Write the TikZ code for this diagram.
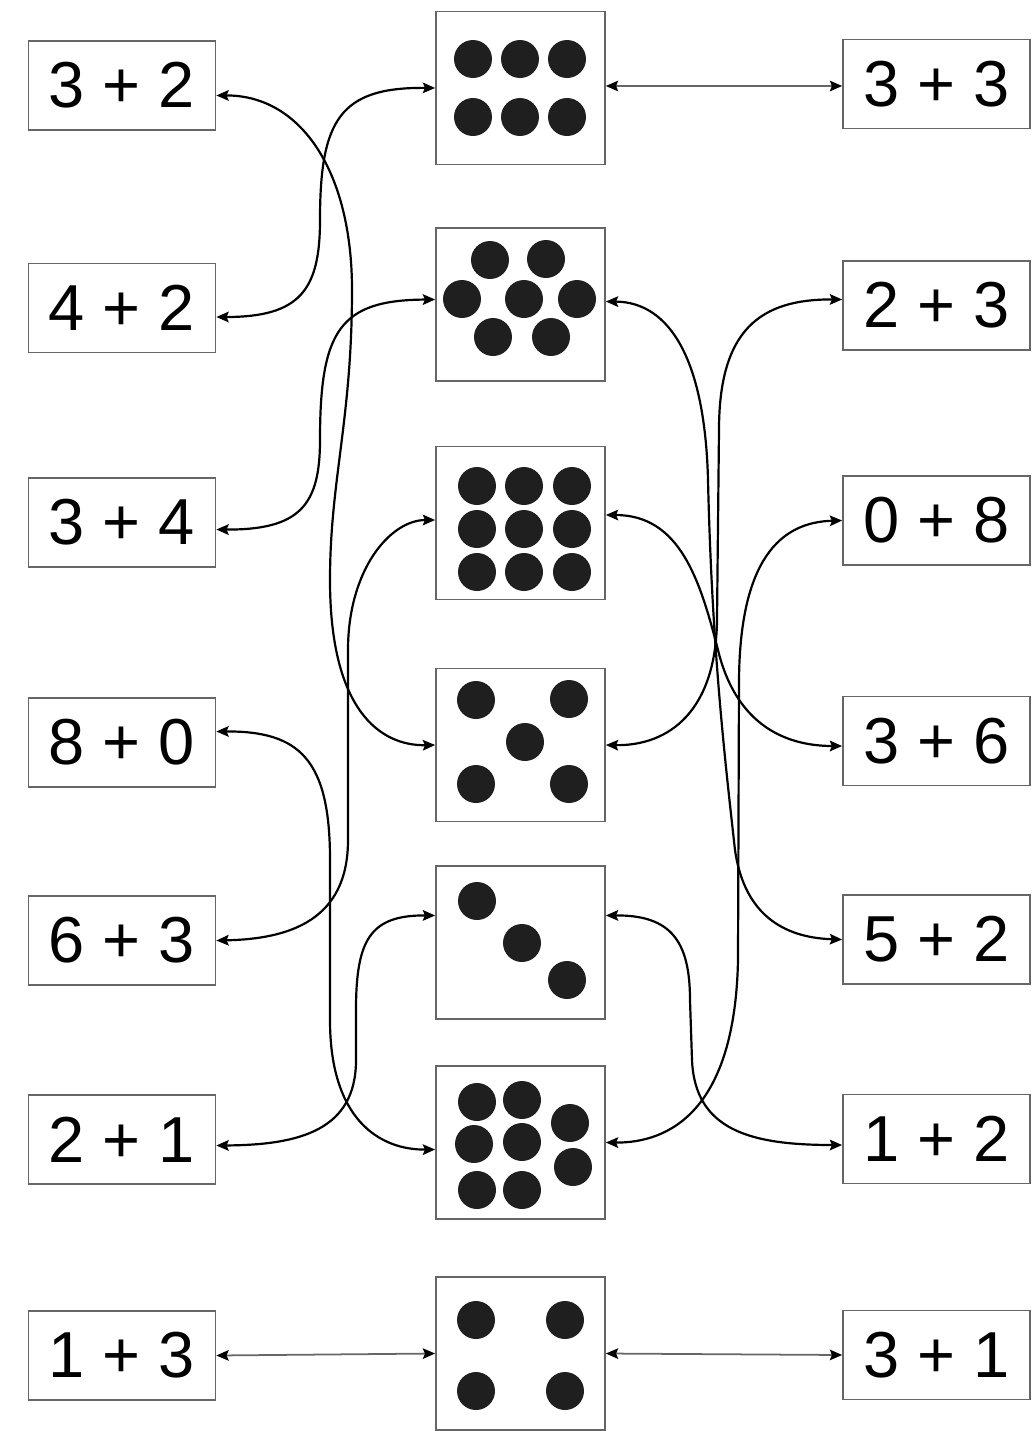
\documentclass[tikz,border=0pt]{standalone}
\usepackage{fontspec}
\setmainfont{Liberation Sans}
\usetikzlibrary{arrows.meta, calc}

\begin{document}
\begin{tikzpicture}[
  x=0.02cm, y=-0.02cm,
  %% sum box (left and right columns)
  sumbox/.style={
    draw=black!60, line width=1pt, fill=white,
    minimum width=3.74cm, minimum height=1.78cm, inner sep=0pt,
    font=\fontsize{37}{44}\selectfont
  },
  %% dot box (middle column)
  dotbox/.style={
    draw=black!60, line width=1pt, fill=white,
    minimum width=3.38cm, minimum height=3.06cm, inner sep=0pt
  },
  pip/.style={fill=black!88},
  %% curved two-headed link
  link/.style={
    {Stealth[length=7pt,width=6pt,inset=1.2pt,color=black]}-{Stealth[length=7pt,width=6pt,inset=1.2pt,color=black]},
    line width=1.25pt
  },
  %% straight two-headed link (thin, grey)
  flat/.style={link, draw=black!60, line width=1pt},
]

\useasboundingbox (0,0) rectangle (1035,1431);

%% ── Left column ──────────────────────────────────────────────────────────────
\node[sumbox] (L1) at (122,85.5)   {3 + 2};
\node[sumbox] (L2) at (122,308)    {4 + 2};
\node[sumbox] (L3) at (122,522.5)  {3 + 4};
\node[sumbox] (L4) at (122,742.5)  {8 + 0};
\node[sumbox] (L5) at (122,940.5)  {6 + 3};
\node[sumbox] (L6) at (122,1139.5) {2 + 1};
\node[sumbox] (L7) at (122,1355.5) {1 + 3};

%% ── Middle column (dot boxes) ────────────────────────────────────────────────
\node[dotbox] (M1) at (520.5,88)     {};
\node[dotbox] (M2) at (520.5,304.5)  {};
\node[dotbox] (M3) at (520.5,523)    {};
\node[dotbox] (M4) at (520.5,745)    {};
\node[dotbox] (M5) at (520.5,942.5)  {};
\node[dotbox] (M6) at (520.5,1142.5) {};
\node[dotbox] (M7) at (520.5,1353.5) {};

%% ── Right column ─────────────────────────────────────────────────────────────
\node[sumbox] (R1) at (936.5,84)    {3 + 3};
\node[sumbox] (R2) at (936.5,305.5) {2 + 3};
\node[sumbox] (R3) at (936.5,520.5) {0 + 8};
\node[sumbox] (R4) at (936.5,741)   {3 + 6};
\node[sumbox] (R5) at (936.5,939.5) {5 + 2};
\node[sumbox] (R6) at (936.5,1139)  {1 + 2};
\node[sumbox] (R7) at (936.5,1355)  {3 + 1};

%% ── Dots ─────────────────────────────────────────────────────────────────────
\def\pipr{0.38cm}
\foreach \p in {(473,59),(520,59),(567,59),(473,117),(520,117),(567,117)}
  \fill[pip] \p circle[radius=\pipr];
\foreach \p in {(490,260),(546,259),(462,299),(524,299),(577,299),(493,337),(551,337)}
  \fill[pip] \p circle[radius=\pipr];
\foreach \x in {477,524,572}
  \foreach \y in {486,529,572}
    \fill[pip] (\x,\y) circle[radius=\pipr];
\foreach \p in {(476,700),(569,699),(525,742),(476,784),(569,784)}
  \fill[pip] \p circle[radius=\pipr];
\foreach \p in {(477,901),(522,943),(567,980)}
  \fill[pip] \p circle[radius=\pipr];
\foreach \p in {(477,1102),(522,1100),(570,1123),(474,1144),(522,1142),(573,1167),(477,1190),(522,1190)}
  \fill[pip] \p circle[radius=\pipr];
\foreach \p in {(476,1320),(565,1320),(476,1391),(565,1391)}
  \fill[pip] \p circle[radius=\pipr];

%% ── Straight links ───────────────────────────────────────────────────────────
\draw[flat] ($(M1.east)+(0,-2)$) -- ($(R1.west)+(0,2)$);
\draw[flat] (L7.east) -- (M7.west);
\draw[flat] (M7.east) -- (R7.west);

%% ── Left links ───────────────────────────────────────────────────────────────
%% 3+2 -- five
\draw[link] ($(L1.east)+(0,10)$)
  .. controls (300,95) and (352,170) .. (352,290)
  .. controls (352,420) and (330,480) .. (330,580)
  .. controls (330,710) and (380,746) .. (M4.west);
%% 4+2 -- six
\draw[link] ($(L2.east)+(0,9)$)
  .. controls (300,317) and (320,290) .. (320,220)
  .. controls (320,120) and (340,87) .. (M1.west);
%% 3+4 -- seven
\draw[link] ($(L3.east)+(0,7)$)
  .. controls (300,530) and (320,505) .. (320,440)
  .. controls (320,330) and (340,300) .. ($(M2.west)+(0,-5)$);
%% 8+0 -- eight
\draw[link] ($(L4.east)+(0,-11)$)
  .. controls (300,731) and (330,760) .. (330,860)
  -- (330,1020)
  .. controls (330,1120) and (380,1150) .. ($(M6.west)+(0,7)$);
%% 6+3 -- nine
\draw[link] ($(M3.west)+(0,-3)$)
  .. controls (390,520) and (348,570) .. (348,650)
  -- (348,840)
  .. controls (348,920) and (290,939) .. (L5.east);
%% 2+1 -- three
\draw[link] ($(M5.west)+(0,-27)$)
  .. controls (370,915) and (356,940) .. (356,1010)
  -- (356,1060)
  .. controls (356,1130) and (300,1145) .. ($(L6.east)+(0,6)$);

%% ── Right links ──────────────────────────────────────────────────────────────
%% seven -- 5+2
\draw[link] ($(M2.east)+(0,-3)$)
  .. controls (670,302) and (705,360) .. (708,480)
  .. controls (712,650) and (725,760) .. (735,850)
  .. controls (745,920) and (790,938) .. (R5.west);
%% 2+3 -- five
\draw[link] ($(R2.west)+(0,-6)$)
  .. controls (760,299) and (719,330) .. (719,430)
  -- (717,620)
  .. controls (716,710) and (670,746) .. (M4.east);
%% 0+8 -- eight
\draw[link] (R3.west)
  .. controls (780,522) and (740,560) .. (739,680)
  -- (738,960)
  .. controls (735,1110) and (670,1143) .. (M6.east);
%% nine -- 3+6
\draw[link] ($(M3.east)+(0,-8)$)
  .. controls (680,515) and (700,580) .. (718,650)
  .. controls (735,720) and (780,746) .. ($(R4.west)+(0,5)$);
%% three -- 1+2
\draw[link] ($(M5.east)+(0,-27)$)
  .. controls (670,915) and (690,940) .. (690,1000)
  -- (692,1060)
  .. controls (695,1130) and (750,1145) .. ($(R6.west)+(0,6)$);

\end{tikzpicture}
\end{document}
